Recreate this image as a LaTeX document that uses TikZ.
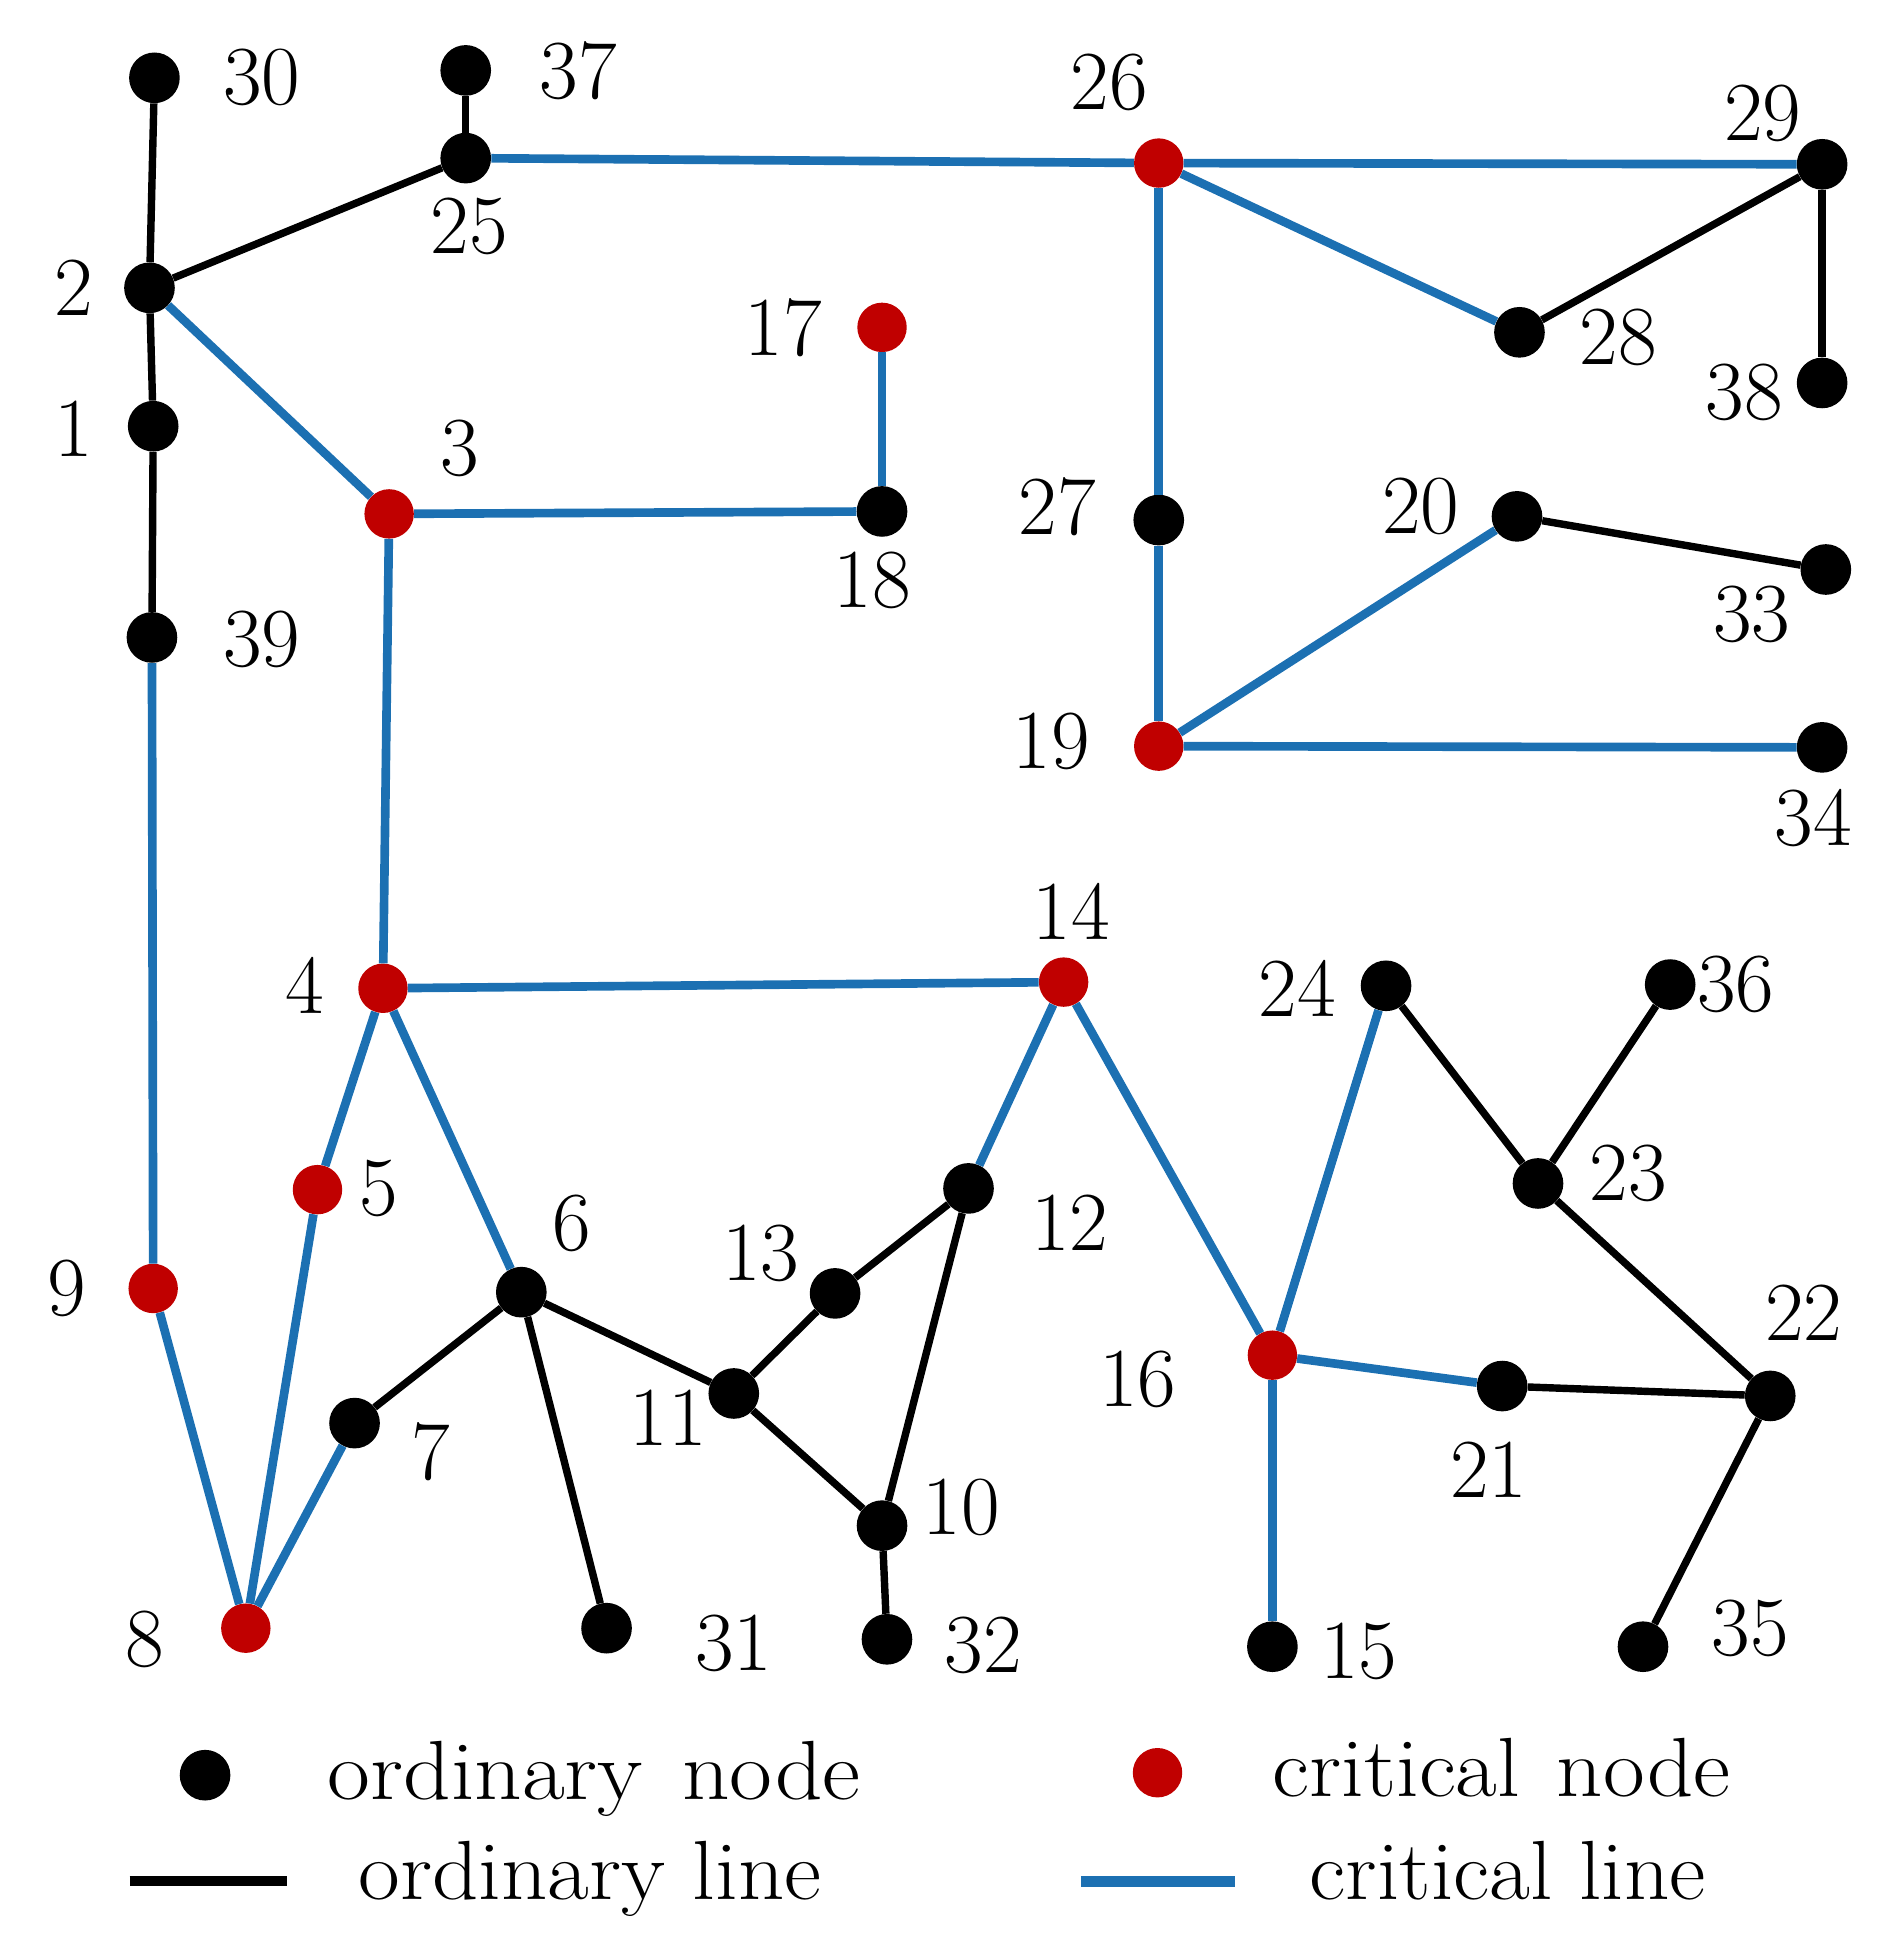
\documentclass[tikz,border=0pt]{standalone}
\usepackage{fontspec}
\usepackage{graphicx}
\begin{document}
\begin{tikzpicture}[x=1pt,y=-1pt,
  every node/.style={font=\fontsize{68}{80}\selectfont},
  ordn/.style={circle,fill=black,inner sep=0pt,minimum size=41pt},
  critn/.style={circle,fill=critred,inner sep=0pt,minimum size=40pt},
  lab/.style={inner sep=0pt,anchor=center},
  oline/.style={line width=6pt,black},
  cline/.style={line width=7pt,critblue},
  leg/.style={inner sep=0pt,anchor=base west}]
\definecolor{critred}{RGB}{192,0,0}
\definecolor{critblue}{RGB}{28,112,178}
\useasboundingbox (0,0) rectangle (1537,1568);
% nodes
\node[ordn]  (n1)  at (124,345) {};
\node[ordn]  (n2)  at (121,233) {};
\node[critn] (n3)  at (315,416) {};
\node[critn] (n4)  at (310,800) {};
\node[critn] (n5)  at (257,963) {};
\node[ordn]  (n6)  at (422,1046) {};
\node[ordn]  (n7)  at (287,1152) {};
\node[critn] (n8)  at (199,1318) {};
\node[critn] (n9)  at (124,1043) {};
\node[ordn]  (n10) at (714,1235) {};
\node[ordn]  (n11) at (594,1128) {};
\node[ordn]  (n12) at (784,962) {};
\node[ordn]  (n13) at (676,1047) {};
\node[critn] (n14) at (861,795) {};
\node[ordn]  (n15) at (1030,1333) {};
\node[critn] (n16) at (1030,1097) {};
\node[critn] (n17) at (714,265) {};
\node[ordn]  (n18) at (714,414) {};
\node[critn] (n19) at (938,604) {};
\node[ordn]  (n20) at (1228,418) {};
\node[ordn]  (n21) at (1216,1122) {};
\node[ordn]  (n22) at (1433,1130) {};
\node[ordn]  (n23) at (1245,958) {};
\node[ordn]  (n24) at (1122,798) {};
\node[ordn]  (n25) at (377,128) {};
\node[critn] (n26) at (938,132) {};
\node[ordn]  (n27) at (938,421) {};
\node[ordn]  (n28) at (1230,269) {};
\node[ordn]  (n29) at (1475,133) {};
\node[ordn]  (n30) at (125,63) {};
\node[ordn]  (n31) at (491,1318) {};
\node[ordn]  (n32) at (718,1327) {};
\node[ordn]  (n33) at (1478,461) {};
\node[ordn]  (n34) at (1475,605) {};
\node[ordn]  (n35) at (1330,1333) {};
\node[ordn]  (n36) at (1352,797) {};
\node[ordn]  (n37) at (377,57) {};
\node[ordn]  (n38) at (1475,310) {};
\node[ordn]  (n39) at (123,516) {};
% edges
\foreach \a/\b in {30/2,37/25,25/2,2/1,1/39,29/28,29/38,20/33,24/23,36/23,23/22,21/22,22/35,6/7,6/11,6/31,11/13,13/12,12/10,11/10,10/32}
  \draw[oline] (n\a) -- (n\b);
\foreach \a/\b in {25/26,26/29,26/28,26/27,27/19,19/20,19/34,2/3,3/18,18/17,3/4,39/9,9/8,8/5,5/4,8/7,4/6,4/14,14/12,14/16,16/24,16/21,16/15}
  \draw[cline] (n\a) -- (n\b);
% labels
\node[lab] (l1)  at (60,347) {1};
\node[lab] (l2)  at (60,233) {2};
\node[lab] (l3)  at (372,363) {3};
\node[lab] (l4)  at (247,798) {4};
\node[lab] (l5)  at (307,962) {5};
\node[lab] (l6)  at (463,990) {6};
\node[lab] (l7)  at (349,1175) {7};
\node[lab] (l8)  at (117,1327) {8};
\node[lab] (l9)  at (54,1043) {9};
\node[lab] (l10) at (778,1220) {10};
\node[lab] (l11) at (541,1148) {11};
\node[lab] (l12) at (866,990) {12};
\node[lab] (l13) at (616,1015) {13};
\node[lab] (l14) at (867,738) {14};
\node[lab] (l15) at (1100,1337) {15};
\node[lab] (l16) at (921,1117) {16};
\node[lab] (l17) at (634,265) {17};
\node[lab] (l18) at (706,470) {18};
\node[lab] (l19) at (851,600) {19};
\node[lab] (l20) at (1150,410) {20};
\node[lab] (l21) at (1205,1190) {21};
\node[lab] (l22) at (1460,1063) {22};
\node[lab] (l23) at (1318,950) {23};
\node[lab] (l24) at (1050,800) {24};
\node[lab] (l25) at (380,183) {25};
\node[lab] (l26) at (898,67) {26};
\node[lab] (l27) at (856,410) {27};
\node[lab] (l28) at (1310,273) {28};
\node[lab] (l29) at (1427,92) {29};
\node[lab] (l30) at (212,63) {30};
\node[lab] (l31) at (594,1330) {31};
\node[lab] (l32) at (796,1332) {32};
\node[lab] (l33) at (1418,497) {33};
\node[lab] (l34) at (1468,662) {34};
\node[lab] (l35) at (1417,1318) {35};
\node[lab] (l36) at (1405,797) {36};
\node[lab] (l37) at (468,57) {37};
\node[lab] (l38) at (1412,318) {38};
\node[lab] (l39) at (212,518) {39};
% legend
\node[ordn]  (legon) at (166,1437) {};
\node[leg]   (legont) at (265,1457) {\scalebox{1.11}[1]{ordinary\hspace{0.12em} node}};
\node[critn] (legcn) at (937,1435) {};
\node[leg]   (legcnt) at (1030,1454) {\scalebox{1.08}[1]{critical\hspace{0.1em} node}};
\coordinate (lolA) at (105,1523);
\coordinate (lolB) at (232,1523);
\draw[line width=8pt,black] (lolA) -- (lolB);
\node[leg]   (legolt) at (290,1538) {\scalebox{1.08}[1]{ordinary line}};
\coordinate (lclA) at (875,1523);
\coordinate (lclB) at (1000,1523);
\draw[line width=9pt,critblue] (lclA) -- (lclB);
\node[leg]   (legclt) at (1060,1538) {\scalebox{1.06}[1]{critical line}};
\end{tikzpicture}
\end{document}
